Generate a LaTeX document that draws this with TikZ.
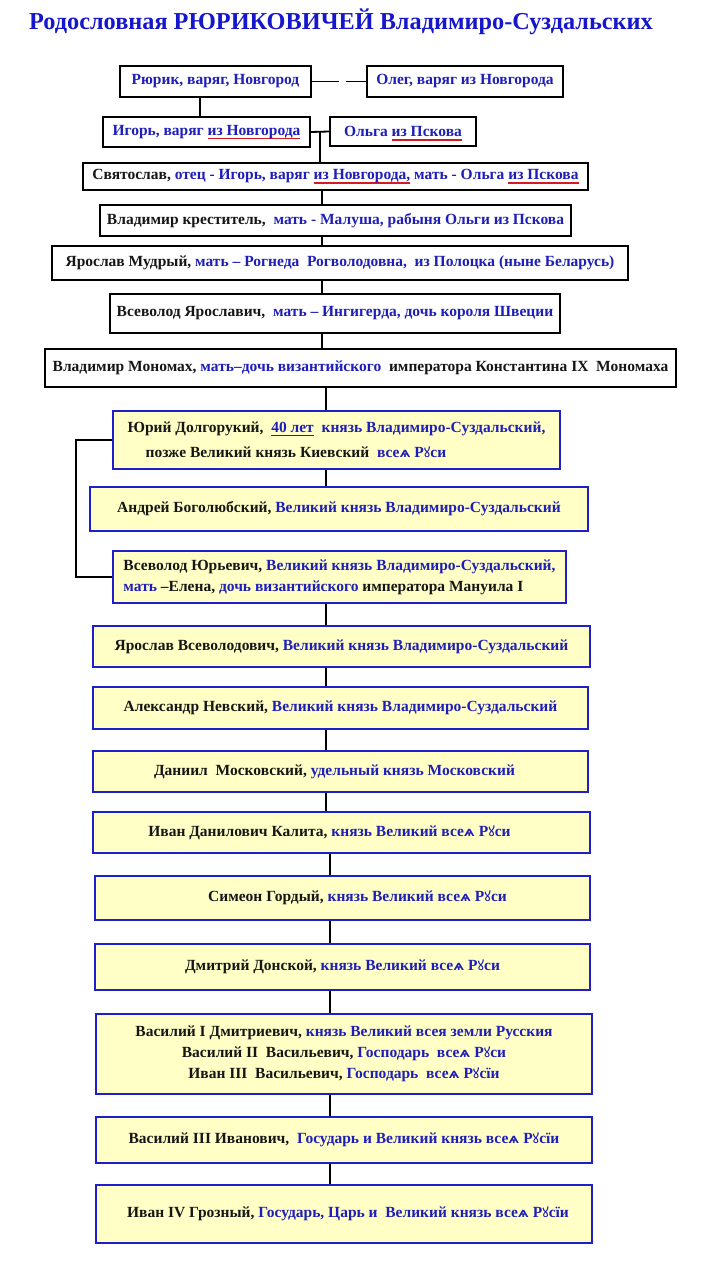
\documentclass[tikz,border=0pt]{standalone}
\usepackage{fontspec}
\setmainfont{Liberation Serif}
\newfontfamily\yusfont{DejaVu Sans}[Scale=0.85]
\newfontfamily\ukfont{Noto Sans}[Scale=0.9]
\usetikzlibrary{positioning,calc}
\usepackage{xcolor}

\definecolor{princeblue}{RGB}{30,30,185}
\definecolor{titleblue}{RGB}{22,22,205}
\definecolor{paleyellow}{RGB}{255,255,198}
\definecolor{frameblue}{RGB}{30,30,205}
\definecolor{inkblack}{RGB}{22,22,22}
\definecolor{origred}{RGB}{215,25,35}

\newlength{\ulwidth}
\newcommand{\bl}[1]{\textcolor{princeblue}{#1}}
\newcommand{\redul}[1]{\settowidth{\ulwidth}{#1}\rlap{\smash{\textcolor{origred}{\rule[-4pt]{\ulwidth}{1.7pt}}}}#1}
\newcommand{\blul}[1]{\settowidth{\ulwidth}{#1}\rlap{\smash{\textcolor{princeblue}{\rule[-3pt]{\ulwidth}{1.1pt}}}}#1}
\newcommand{\yus}{{\yusfont ѧ}}
\newcommand{\uk}{{\ukfont ꙋ}}

\begin{document}
\begin{tikzpicture}[
    x=1pt, y=-1pt,
    plainbox/.style={
        rectangle,
        draw=black,
        line width=1.8pt,
        fill=white,
        align=center,
        inner sep=2pt,
        text=inkblack,
        font=\bfseries\fontsize{15.5}{21}\selectfont
    },
    yellowbox/.style={
        plainbox,
        draw=frameblue,
        fill=paleyellow
    },
    link/.style={line width=1.8pt, black}
]

\fill[white] (0,0) rectangle (719,1280);
\useasboundingbox (0,0) rectangle (719,1280);

\node[font=\bfseries\fontsize{24.3}{28}\selectfont, text=titleblue] (title) at (341,22)
{Родословная РЮРИКОВИЧЕЙ Владимиро-Суздальских};

\node[plainbox, minimum width=191, minimum height=31] (rurik) at (215.5,81.5)
{\bl{Рюрик, варяг, Новгород}};

\node[plainbox, minimum width=196, minimum height=31] (oleg) at (465,81.5)
{\bl{Олег, варяг из Новгорода}};

\node[plainbox, minimum width=207, minimum height=30] (igor) at (206.5,132)
{\bl{Игорь, варяг \redul{из Новгорода}}};

\node[plainbox, minimum width=146, minimum height=29] (olga) at (403,131.5)
{\bl{Ольга \redul{из Пскова}}};

\node[plainbox, minimum width=505, minimum height=27] (svyat) at (335.5,176.5)
{Святослав,\ \bl{отец - Игорь, варяг \redul{из Новгорода,} мать - Ольга \redul{из Пскова}}};

\node[plainbox, minimum width=471, minimum height=31] (vladimir) at (335.5,220.5)
{Владимир креститель,\ \ \bl{мать - Малуша, рабыня Ольги из Пскова}};

\node[plainbox, minimum width=576, minimum height=34] (yaroslav) at (340,263)
{Ярослав Мудрый, \bl{мать -- Рогнеда\ \ Рогволодовна,\ \ из Полоцка (ныне Беларусь)}};

\node[plainbox, minimum width=450, minimum height=39] (vsevolod) at (335,313.5)
{Всеволод Ярославич,\ \ \bl{мать -- Ингигерда, дочь короля Швеции}};

\node[plainbox, minimum width=631, minimum height=38] (monomakh) at (360.5,368)
{Владимир Мономах, \bl{мать--дочь византийского}\ \ императора Константина IX\ \ Мономаха};

\node[yellowbox, minimum width=447, minimum height=58, align=left] (yuri) at (336.5,440)
{Юрий Долгорукий,\ \ \bl{\blul{40 лет}\ \ князь Владимиро-Суздальский,}\\[4pt]
\hspace{18pt}позже Великий князь Киевский\ \ \bl{все\yus{} Р\uk{}си}};

\node[yellowbox, minimum width=498, minimum height=44] (andrei) at (339,509)
{Андрей Боголюбский, \bl{Великий князь Владимиро-Суздальский}};

\node[yellowbox, minimum width=453, minimum height=52, align=left] (vsevolodyu) at (339.5,577)
{Всеволод Юрьевич, \bl{Великий князь Владимиро-Суздальский,}\\
\bl{мать} --Елена, \bl{дочь византийского} императора Мануила I};

\node[yellowbox, minimum width=497, minimum height=41] (yaroslavvs) at (341.5,646.5)
{Ярослав Всеволодович, \bl{Великий князь Владимиро-Суздальский}};

\node[yellowbox, minimum width=495, minimum height=42] (alexander) at (340.5,708)
{Александр Невский, \bl{Великий князь Владимиро-Суздальский}};

\node[yellowbox, minimum width=495, minimum height=41] (daniil) at (340.5,771.5)
{Даниил\ \ Московский, \bl{удельный князь Московский}\hspace*{12pt}};

\node[yellowbox, minimum width=497, minimum height=41] (kalita) at (341.5,832.5)
{Иван Данилович Калита,\ \bl{князь Великий все\yus{} Р\uk{}си}\hspace*{24pt}};

\node[yellowbox, minimum width=495, minimum height=44] (simeon) at (342.5,898)
{\hspace{30pt}Симеон Гордый, \bl{князь Великий все\yus{} Р\uk{}си}};

\node[yellowbox, minimum width=495, minimum height=46] (dmitry) at (342.5,967)
{Дмитрий Донской, \bl{князь Великий все\yus{} Р\uk{}си}};

\node[yellowbox, minimum width=496, minimum height=80] (vasily) at (344,1054)
{Василий I Дмитриевич, \bl{князь Великий всея земли Русския}\\
Василий II\ \ Васильевич, \bl{Господарь\ \ все\yus{} Р\uk{}си}\\
Иван III\ \ Васильевич, \bl{Господарь\ \ все\yus{} Р\uk{}сїи}};

\node[yellowbox, minimum width=496, minimum height=46] (vasily3) at (344,1140)
{Василий III Иванович,\ \ \bl{Государь и Великий князь все\yus{} Р\uk{}сїи}};

\node[yellowbox, minimum width=496, minimum height=58] (ivan4) at (344,1214)
{\hspace*{8pt}Иван IV Грозный, \bl{Государь, Царь и\ \ Великий князь все\yus{} Р\uk{}сїи}};

\coordinate (rk) at (200,0);
\coordinate (upper) at (322,0);
\coordinate (middle) at (326,0);
\coordinate (lower) at (330,0);
\coordinate (wed) at ($(igor.east)!0.5!(olga.west)$);

\draw[link, dash pattern=on 27pt off 7pt on 40pt] (rurik.east) -- (oleg.west);
\draw[link] (rurik.south -| rk) -- (igor.north -| rk);
\draw[link] (igor.east) -- (olga.west);
\draw[link] (wed) -- (wed |- svyat.north);

\draw[link] (svyat.south -| upper) -- (vladimir.north -| upper);
\draw[link] (vladimir.south -| upper) -- (yaroslav.north -| upper);
\draw[link] (yaroslav.south -| upper) -- (vsevolod.north -| upper);
\draw[link] (vsevolod.south -| upper) -- (monomakh.north -| upper);
\draw[link] (monomakh.south -| middle) -- (yuri.north -| middle);
\draw[link] (yuri.south -| middle) -- (andrei.north -| middle);
\draw[link] (yuri.west) -- ++(-36,0) |- (vsevolodyu.west);
\draw[link] (vsevolodyu.south -| middle) -- (yaroslavvs.north -| middle);
\draw[link] (yaroslavvs.south -| middle) -- (alexander.north -| middle);
\draw[link] (alexander.south -| middle) -- (daniil.north -| middle);
\draw[link] (daniil.south -| middle) -- (kalita.north -| middle);
\draw[link] (kalita.south -| lower) -- (simeon.north -| lower);
\draw[link] (simeon.south -| lower) -- (dmitry.north -| lower);
\draw[link] (dmitry.south -| lower) -- (vasily.north -| lower);
\draw[link] (vasily.south -| lower) -- (vasily3.north -| lower);
\draw[link] (vasily3.south -| lower) -- (ivan4.north -| lower);

\end{tikzpicture}
\end{document}
